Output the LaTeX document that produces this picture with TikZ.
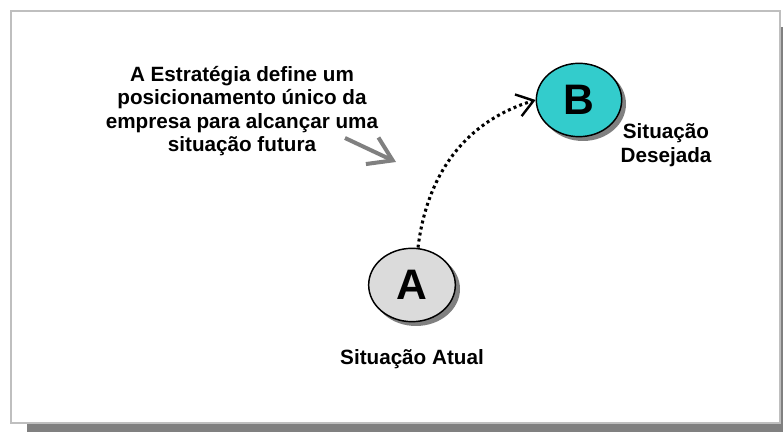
\documentclass[tikz,border=0pt]{standalone}
\usepackage{fontspec}
\setmainfont{Liberation Sans}
\usepackage{tikz}
\usetikzlibrary{shapes.geometric,arrows.meta}

\begin{document}
\begin{tikzpicture}[x=0.75pt,y=0.75pt,
	state/.style={ellipse,draw=black,line width=1.1pt,minimum width=65pt,minimum height=55pt,inner sep=0pt,font=\fontsize{32}{32}\selectfont\bfseries},
	lbl/.style={align=center,font=\fontsize{15.5}{17.6}\selectfont\bfseries}]
\useasboundingbox (0,0) rectangle (783,432);
% moldura com sombra
\fill[black!50] (27,-10) rectangle (797,405);
\draw[fill=white,draw=black!25,line width=1.5pt] (11,9) rectangle (780,421);
% sombras das elipses
\fill[black!50] (416,143) ellipse [x radius=44,y radius=37];
\fill[black!50] (583,328) ellipse [x radius=43,y radius=37];
\node[state,fill=black!14] (atual) at (412,147) {A};
\node[state,fill={rgb,255:red,51;green,204;blue,204},minimum width=64pt] (desejada) at (579,332) {B};
\node[lbl] (txtatual) at (412,73) {Situação Atual};
\node[lbl] (txtdesejada) at (666,287) {Situação\\Desejada};
\node[lbl] (estrategia) at (242,321) {A Estratégia define um\\posicionamento único da\\empresa para alcançar uma\\situação futura};
\coordinate (seta1) at (345,294);
\coordinate (seta2) at (396,270);
\draw[black!50,line width=3pt,-{Straight Barb[length=17pt,width=22pt,line width=3pt]}] (seta1) -- (seta2);
\draw[line width=2.3pt,dash pattern=on 2.2pt off 2.4pt,-{Straight Barb[length=12pt,width=17pt,line width=1.8pt]}]
	(atual.north) ++(6,0) to[out=83,in=197] (desejada.west);
\end{tikzpicture}
\end{document}
